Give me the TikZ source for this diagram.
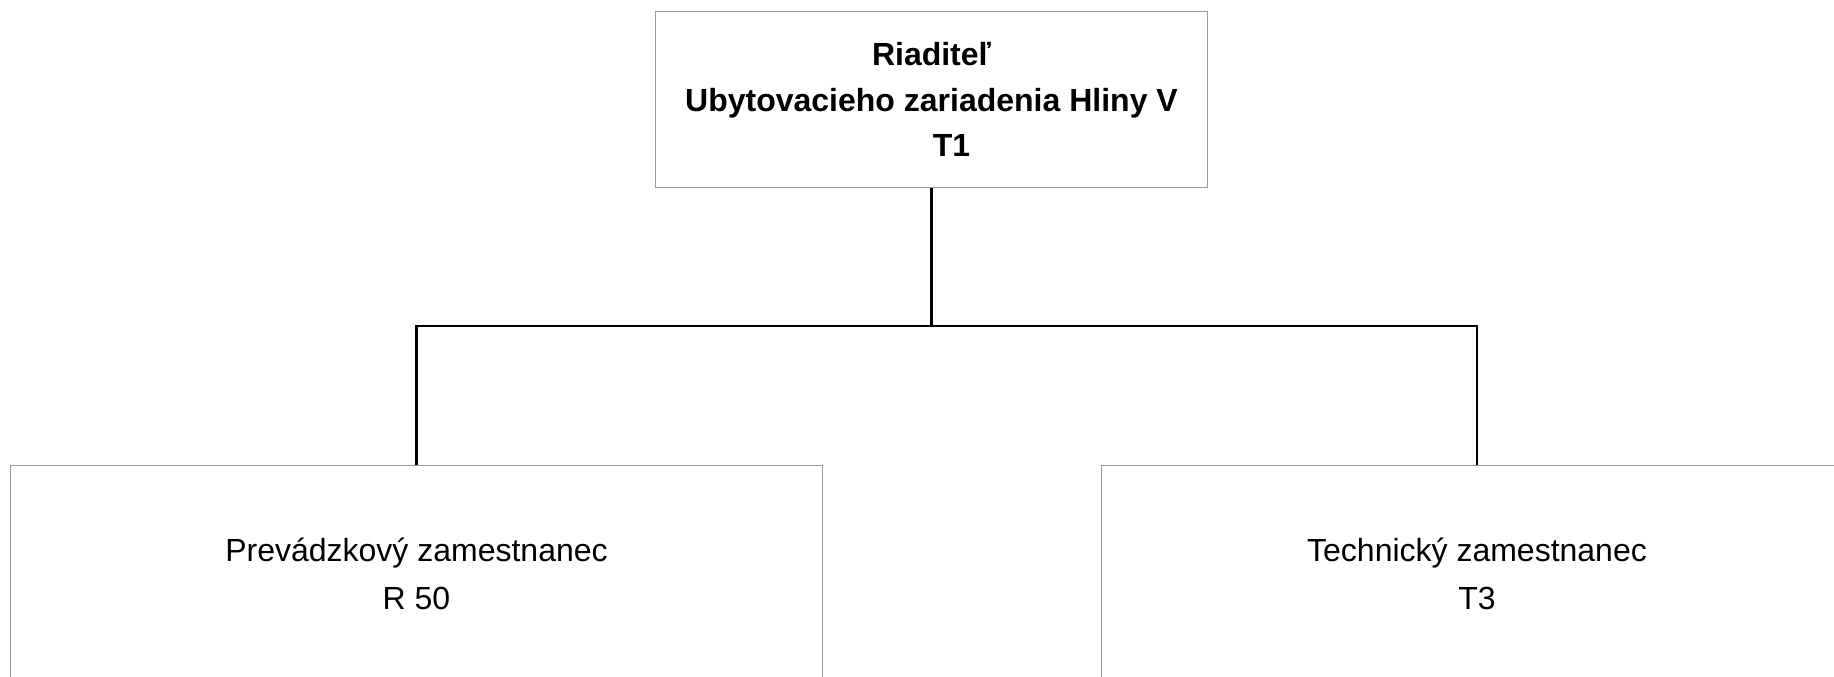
\documentclass[tikz,border=0pt]{standalone}
\usepackage{fontspec}
\setmainfont{Liberation Sans}
\usetikzlibrary{positioning}
\definecolor{BoxGray}{HTML}{999999}

\begin{document}
\begin{tikzpicture}[x=0.01cm, y=-0.01cm,
  orgbox/.style={draw=BoxGray, line width=0.3pt, inner sep=0pt, align=center},
  wire/.style={draw=black, line width=0.6pt}]
  \useasboundingbox (0,0) rectangle (1834,676);
  % head of the unit
  \node[orgbox, minimum width=5.51cm, minimum height=1.75cm,
    font=\bfseries\fontsize{9.1pt}{13pt}\selectfont] (riad) at (931.5,99.5)
    {Riaditeľ\\Ubytovacieho zariadenia Hliny V\\\hspace*{0.4cm}T1};
  % staff
  \node[orgbox, minimum width=8.11cm, minimum height=2.16cm,
    font=\fontsize{9.1pt}{13.7pt}\selectfont] (prev) at (416.5,574)
    {Prevádzkový zamestnanec\\R 50};
  \node[orgbox, minimum width=7.50cm, minimum height=2.16cm,
    font=\fontsize{9.1pt}{13.7pt}\selectfont] (tech) at (1477,574)
    {Technický zamestnanec\\T3};
  \coordinate (bus) at (931.5,326);
  \draw[wire] (riad.south) -- (bus);
  \draw[wire] (prev.north) |- (bus) -| (tech.north);
\end{tikzpicture}
\end{document}
